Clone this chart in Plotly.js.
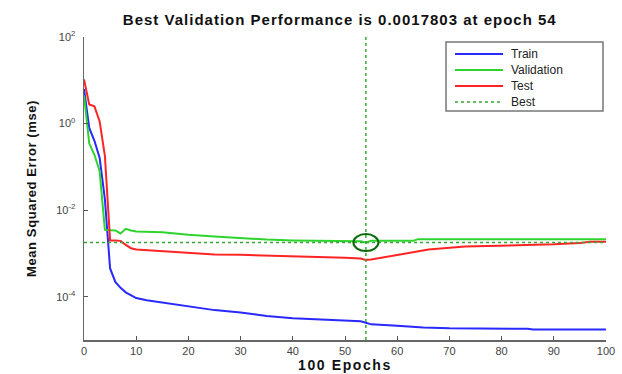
<!DOCTYPE html>
<html>
<head>
<meta charset="utf-8">
<script src="https://cdn.plot.ly/plotly-3.0.1.min.js"></script>
<style>
html,body{margin:0;padding:0;background:#fff;}
#chart{width:622px;height:374px;}
#chart .gtitle{letter-spacing:1px;}
#chart .xtitle{letter-spacing:1.6px;}
#chart .ytitle{letter-spacing:0.6px;}
</style>
</head>
<body>
<div id="chart"></div>
<script>
// ---- data ----
const trainEpochs = [0,1,2,3,4,5,6,7,8,9,10,12,15,20,25,30,35,40,45,50,53,54,55,60,65,70,85,86,100];
const trainMSE    = [6.3,0.79,0.40,0.16,0.018,4.5e-4,2.2e-4,1.6e-4,1.26e-4,1.07e-4,9.3e-5,8.3e-5,7.4e-5,6.0e-5,4.9e-5,4.3e-5,3.6e-5,3.2e-5,3.0e-5,2.8e-5,2.7e-5,2.5e-5,2.3e-5,2.14e-5,1.95e-5,1.86e-5,1.82e-5,1.74e-5,1.74e-5];

const valEpochs = [0,1,2,3,4,5,6,7,8,9,10,15,20,25,30,35,40,50,53,54,55,63,64,100];
const valMSE    = [4.5,0.35,0.19,0.079,0.0035,0.0035,0.0034,0.0029,0.0037,0.0034,0.0032,0.0031,0.0027,0.00245,0.00224,0.00209,0.0020,0.00195,0.0019,0.0017803,0.00195,0.00195,0.00214,0.00214];

const testEpochs = [0,1,2,3,4,5,6,7,8,9,10,15,20,25,30,40,50,53,54,55,60,66,73,80,90,95,97,100];
const testMSE    = [10.5,2.75,2.5,1.12,0.18,0.0020,0.0020,0.00195,0.00158,0.00132,0.00123,0.00112,0.00105,0.00095,0.00093,0.00087,0.00079,0.00076,0.00071,0.00072,0.00093,0.00123,0.00145,0.00151,0.00162,0.00174,0.00186,0.00186];

const bestEpoch = 54;
const bestPerf  = 0.0017803;
const epochRange = [0, 100];
const xTicks = [0,10,20,30,40,50,60,70,80,90,100];
const yTicks = [1e-4, 1e-2, 1, 100];
const yTickText = ['10<sup>-4</sup>','10<sup>-2</sup>','10<sup>0</sup>','10<sup>2</sup>'];
const seriesNames = ['Train','Validation','Test','Best'];
const titleText = 'Best Validation Performance is ' + bestPerf + ' at epoch ' + bestEpoch;

// ---- chart ----
const FONT = 'Liberation Sans, Arial, sans-serif';
const W = 622, H = 374;
const M = {l: 84, r: 16, t: 37, b: 34};
const plotW = W - M.l - M.r, plotH = H - M.t - M.b;
const px2paper = p => (p - M.l) / plotW;
const py2paper = p => (H - M.b - p) / plotH;

const lineStyles = [
  {color: '#2828ff', width: 2},
  {color: '#2ed42e', width: 2},
  {color: '#ff2424', width: 2},
  {color: '#35a835', width: 1.5, dash: '3px,3px'}
];

const traces = [
  {x: trainEpochs, y: trainMSE, name: seriesNames[0], mode: 'lines', line: lineStyles[0]},
  {x: valEpochs, y: valMSE, name: seriesNames[1], mode: 'lines', line: lineStyles[1]},
  {x: testEpochs, y: testMSE, name: seriesNames[2], mode: 'lines', line: lineStyles[2]},
  {x: epochRange, y: [bestPerf, bestPerf], name: seriesNames[3], mode: 'lines', line: lineStyles[3]}
];

// circle around the best point: ~25 x 17 px ellipse
const circHalfX = 12.5 / (plotW / (epochRange[1] - epochRange[0]));
const circHalfDec = 8.5 / (plotH / 7);

const shapes = [
  {type: 'line', xref: 'x', yref: 'paper', x0: bestEpoch, x1: bestEpoch, y0: 0, y1: 1,
   line: {color: '#35a835', width: 1.5, dash: 'dot'}},
  {type: 'circle', xref: 'x', yref: 'y',
   x0: bestEpoch - circHalfX, x1: bestEpoch + circHalfX,
   y0: bestPerf / Math.pow(10, circHalfDec), y1: bestPerf * Math.pow(10, circHalfDec),
   line: {color: '#0b6b0b', width: 2}}
];
const annotations = [];

// custom legend (MATLAB style)
const lg = {left: 446, top: 42, right: 603, bottom: 111, row0: 54, rowGap: 16, lineX0: 455, lineX1: 503, textX: 509};
shapes.push({type: 'rect', xref: 'paper', yref: 'paper',
  x0: px2paper(lg.left), x1: px2paper(lg.right), y0: py2paper(lg.bottom), y1: py2paper(lg.top),
  fillcolor: '#fff', line: {color: '#777', width: 1.5}});
seriesNames.forEach((name, i) => {
  const yy = py2paper(lg.row0 + i * lg.rowGap);
  shapes.push({type: 'line', xref: 'paper', yref: 'paper',
    x0: px2paper(lg.lineX0), x1: px2paper(lg.lineX1), y0: yy, y1: yy, line: lineStyles[i]});
  annotations.push({xref: 'paper', yref: 'paper', x: px2paper(lg.textX), y: yy,
    xanchor: 'left', yanchor: 'middle', showarrow: false, text: name,
    font: {family: FONT, size: 12, color: '#222'}});
});

const layout = {
  width: W, height: H,
  paper_bgcolor: '#fff', plot_bgcolor: '#fff',
  margin: M,
  font: {family: FONT, color: '#222'},
  showlegend: false,
  title: {text: '<b>' + titleText + '</b>', font: {family: FONT, size: 15, color: '#111'},
          xref: 'paper', x: 0.49, xanchor: 'center', yref: 'container', y: 0.948, yanchor: 'middle'},
  xaxis: {
    range: epochRange, tickvals: xTicks, ticks: 'inside', ticklen: 4, tickcolor: '#555', tickwidth: 1,
    showline: true, linecolor: '#666', linewidth: 1.5, showgrid: false, zeroline: false,
    tickfont: {family: FONT, size: 11, color: '#444'},
    title: {text: '<b>' + xTicks[xTicks.length-1] + ' Epochs</b>', font: {family: FONT, size: 14, color: '#111'}, standoff: 4}
  },
  yaxis: {
    type: 'log', range: [-5, 2], tickvals: yTicks, ticktext: yTickText,
    ticks: 'inside', ticklen: 4, tickcolor: '#555', tickwidth: 1, ticklabelstandoff: 5,
    showline: true, linecolor: '#666', linewidth: 1.5, showgrid: false, zeroline: false,
    tickfont: {family: FONT, size: 11, color: '#444'},
    title: {text: '<b>Mean Squared Error (mse)</b>', font: {family: FONT, size: 13, color: '#111'}, standoff: 16}
  },
  shapes: shapes,
  annotations: annotations
};

Plotly.newPlot('chart', traces, layout, {displayModeBar: false, staticPlot: true});
</script>
</body>
</html>
